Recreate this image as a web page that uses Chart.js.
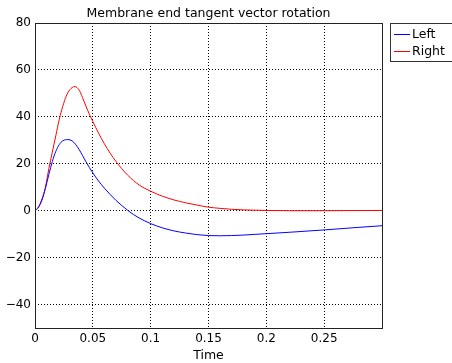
<!DOCTYPE html>
<html><head><meta charset="utf-8">
<script src="https://cdn.jsdelivr.net/npm/chart.js@4"></script>
<style>html,body{margin:0;padding:0;background:#fff}#w{width:452px;height:363px}</style>
</head><body><div id="w"><canvas id="c"></canvas></div>
<script>
const title = 'Membrane end tangent vector rotation';
const xLabel = 'Time';
const seriesNames = ['Left', 'Right'];
const leftT = [0,0.003,0.006,0.009,0.012,0.015,0.018,0.021,0.024,0.0285,0.032,0.035,0.038,0.041,0.044,0.047,0.05,0.055,0.06,0.065,0.07,0.075,0.08,0.085,0.09,0.095,0.1,0.11,0.12,0.13,0.14,0.15,0.16,0.17,0.18,0.19,0.2,0.22,0.25,0.28,0.3];
const leftV = [0,1.5,4.5,9.5,15.5,21,25.3,28.2,29.8,30.3,29.8,28.3,26.2,23.6,20.9,18.4,16.1,12.6,9.6,6.9,4.4,2.2,0.2,-1.6,-3.1,-4.4,-5.5,-7.3,-8.6,-9.5,-10.2,-10.6,-10.7,-10.6,-10.4,-10.1,-9.8,-9.2,-8.2,-7.1,-6.4];
const rightT = [0,0.003,0.006,0.009,0.012,0.015,0.018,0.021,0.024,0.027,0.03,0.0345,0.038,0.041,0.044,0.047,0.05,0.055,0.06,0.065,0.07,0.075,0.08,0.085,0.09,0.095,0.1,0.11,0.12,0.13,0.14,0.15,0.16,0.17,0.18,0.2,0.22,0.25,0.3];
const rightV = [0,1.5,5,10,18,25,32,39,44.5,48.8,51.5,52.9,51.5,48.3,44.6,41.1,38,33,28.5,24.5,21,17.9,15.2,12.9,11,9.5,8.3,6.2,4.6,3.4,2.4,1.5,1,0.6,0.35,0.1,0,0,0.1];
const xTicks = [0,0.05,0.1,0.15,0.2,0.25];
const yTicks = [-40,-20,0,20,40,60,80];
const FONT = 'DejaVu Sans';

const frame = {
  id:'frame',
  afterDraw(ch){
    const {ctx, chartArea:a} = ch;
    ctx.save();
    ctx.strokeStyle = '#222'; ctx.lineWidth = 1;
    ctx.strokeRect(a.left+0.5, a.top+0.5, a.right-a.left, a.bottom-a.top);
    ctx.fillStyle = '#000';
    ctx.font = '12.5px "'+FONT+'"';
    ctx.textAlign = 'center'; ctx.textBaseline = 'alphabetic';
    ctx.fillText(title, (a.left+a.right)/2, 17);
    const lx = 390, ly = 23, lw = 62, lh = 38;
    ctx.fillStyle = '#fff';
    ctx.fillRect(lx, ly, lw, lh);
    ctx.strokeStyle = '#333';
    ctx.strokeRect(lx+0.5, ly+0.5, lw, lh);
    const cols = ['#0000ff','#ff0000'];
    ctx.font = '12.5px "'+FONT+'"';
    ctx.textAlign = 'left'; ctx.textBaseline = 'middle';
    seriesNames.forEach((n,i)=>{
      const y = ly + 11 + i*17;
      ctx.strokeStyle = cols[i];
      ctx.beginPath(); ctx.moveTo(lx+4, y+0.5); ctx.lineTo(lx+20, y+0.5); ctx.stroke();
      ctx.fillStyle = '#000';
      ctx.fillText(n, lx+22, y+1);
    });
    ctx.restore();
  }
};

new Chart(document.getElementById('c'), {
  type:'line',
  data:{datasets:[
    {label:seriesNames[0], data:leftT.map((t,i)=>({x:t,y:leftV[i]})), borderColor:'#0000ff', borderWidth:1, pointRadius:0, cubicInterpolationMode:'monotone', fill:false},
    {label:seriesNames[1], data:rightT.map((t,i)=>({x:t,y:rightV[i]})), borderColor:'#ff0000', borderWidth:1, pointRadius:0, cubicInterpolationMode:'monotone', fill:false}
  ]},
  options:{
    responsive:true, maintainAspectRatio:false, animation:false,
    layout:{padding:{top:23,right:70,left:0,bottom:0}},
    plugins:{legend:{display:false}, title:{display:false}, tooltip:{enabled:false}},
    scales:{
      x:{type:'linear', min:0, max:0.3,
        afterBuildTicks(s){ s.ticks = xTicks.map(v=>({value:v})); },
        afterFit(s){ s.height = 35; },
        ticks:{color:'#000', font:{family:FONT,size:12}, padding:4, maxRotation:0, autoSkip:false, callback:v=>String(v)},
        grid:{color:'#000', drawTicks:false, lineWidth:1},
        border:{display:false, dash:[1,2]},
        title:{display:true, text:xLabel, color:'#000', font:{family:FONT,size:12.5}, padding:{top:0,bottom:0}}
      },
      y:{type:'linear', min:-50, max:80,
        afterBuildTicks(s){ s.ticks = yTicks.map(v=>({value:v})); },
        afterFit(s){ s.width = 35; },
        ticks:{color:'#000', font:{family:FONT,size:12}, padding:4, autoSkip:false, callback:v=>String(v).replace('-','\u2212')},
        grid:{color:'#000', drawTicks:false, lineWidth:1},
        border:{display:false, dash:[1,2]}
      }
    }
  },
  plugins:[frame]
});
</script></body></html>
